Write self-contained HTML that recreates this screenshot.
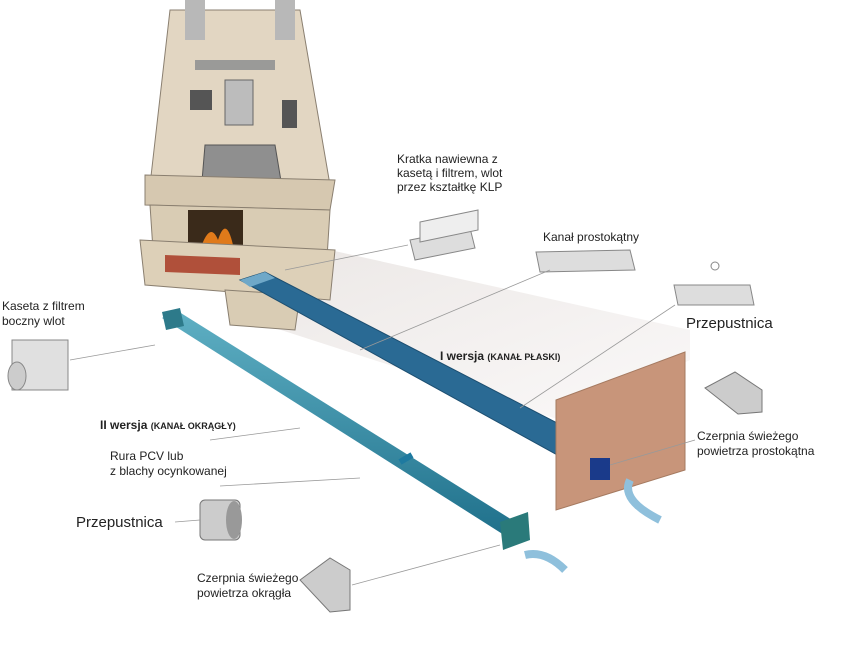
<!DOCTYPE html>
<html><head><meta charset="utf-8"><style>
html,body{margin:0;padding:0;background:#fff;}
svg{display:block;}
text{font-family:"Liberation Sans",sans-serif;fill:#222;}
</style></head><body>
<svg width="848" height="659" viewBox="0 0 848 659" xmlns="http://www.w3.org/2000/svg">
<defs>
<linearGradient id="floor" x1="0" y1="0" x2="1" y2="1">
<stop offset="0" stop-color="#d8d0cc"/><stop offset="1" stop-color="#f6f2f2"/></linearGradient>
<linearGradient id="pipe" x1="0" y1="0" x2="0" y2="1">
<stop offset="0" stop-color="#5fb0c4"/><stop offset="1" stop-color="#1e6f8a"/></linearGradient>
</defs>
<polygon points="230,250 330,250 690,330 690,360 560,420 250,320" fill="url(#floor)" opacity="0.5"/>
<polygon points="170,10 300,10 330,185 150,185" fill="#e2d6c2" stroke="#8a7f70"/>
<rect x="185" y="0" width="20" height="40" fill="#b8b8b8"/>
<rect x="275" y="0" width="20" height="40" fill="#b8b8b8"/>
<rect x="195" y="60" width="80" height="10" fill="#9a9a98"/>
<rect x="225" y="80" width="28" height="45" fill="#bcbcbc" stroke="#666"/>
<rect x="190" y="90" width="22" height="20" fill="#555"/>
<rect x="282" y="100" width="15" height="28" fill="#555"/>
<polygon points="205,145 275,145 285,205 200,205" fill="#8f8f8f" stroke="#555"/>
<polygon points="145,175 335,180 330,210 145,205" fill="#d6c8b0" stroke="#8a7f70"/>
<polygon points="150,205 330,210 325,290 155,280" fill="#d9ccb4" stroke="#8a7f70"/>
<rect x="188" y="210" width="55" height="45" fill="#3a2a1a"/>
<path d="M200,250 q10,-30 18,-10 q8,-25 15,5 z" fill="#e07a1a"/>
<polygon points="140,240 335,250 330,300 145,285" fill="#ddd0b8" stroke="#8a7f70"/>
<polygon points="165,255 240,258 240,275 165,272" fill="#b0503a"/>
<polygon points="225,290 300,295 295,330 230,325" fill="#d9ccb4" stroke="#8a7f70"/>
<polygon points="240,280 265,272 590,440 570,462" fill="#2a6a94" stroke="#1c4e70"/>
<polygon points="240,280 265,272 275,278 250,287" fill="#6fa8c8"/>
<polygon points="556,400 685,352 685,470 556,510" fill="#c8957a" stroke="#a57a60"/>
<rect x="590" y="458" width="20" height="22" fill="#1a3a8a"/>
<polygon points="162,318 176,310 525,528 512,540" fill="url(#pipe)"/>
<polygon points="162,312 180,308 184,326 166,330" fill="#2d7a8a"/>
<polygon points="500,522 528,512 530,540 503,550" fill="#2a7a7a"/>
<line x1="400" y1="462" x2="412" y2="455" stroke="#1e7aa0" stroke-width="6"/>
<path d="M630,480 q-10,20 30,40" stroke="#8fc0dc" stroke-width="8" fill="none"/>
<path d="M525,555 q20,-5 40,15" stroke="#8fc0dc" stroke-width="8" fill="none"/>
<polygon points="410,240 470,228 475,248 415,260" fill="#ddd" stroke="#888"/>
<polygon points="420,222 478,210 478,230 420,242" fill="#eee" stroke="#888"/>
<polygon points="536,252 630,250 635,270 540,272" fill="#ddd" stroke="#888"/>
<polygon points="674,285 750,285 754,305 678,305" fill="#ddd" stroke="#888"/>
<circle cx="715" cy="266" r="4" fill="none" stroke="#888"/>
<rect x="12" y="340" width="56" height="50" fill="#e0e0e0" stroke="#888"/>
<ellipse cx="17" cy="376" rx="9" ry="14" fill="#ccc" stroke="#888"/>
<rect x="200" y="500" width="40" height="40" rx="5" fill="#ccc" stroke="#777"/>
<ellipse cx="234" cy="520" rx="8" ry="19" fill="#999"/>
<polygon points="300,580 330,558 350,570 350,610 330,612" fill="#ccc" stroke="#777"/>
<polygon points="705,388 735,372 762,390 762,412 738,414" fill="#ccc" stroke="#777"/>
<g stroke="#999" stroke-width="0.8">
<line x1="70" y1="360" x2="155" y2="345"/>
<line x1="408" y1="245" x2="285" y2="270"/>
<line x1="550" y1="270" x2="360" y2="350"/>
<line x1="675" y1="305" x2="520" y2="408"/>
<line x1="210" y1="440" x2="300" y2="428"/>
<line x1="220" y1="486" x2="360" y2="478"/>
<line x1="175" y1="522" x2="200" y2="520"/>
<line x1="352" y1="585" x2="500" y2="545"/>
<line x1="695" y1="440" x2="610" y2="465"/>
</g>
<g font-size="12">
<text x="397" y="163">Kratka nawiewna z</text>
<text x="397" y="177">kasetą i filtrem, wlot</text>
<text x="397" y="191">przez kształtkę KLP</text>
<text x="543" y="241">Kanał prostokątny</text>
<text x="2" y="310">Kaseta z filtrem</text>
<text x="2" y="325">boczny wlot</text>
<text x="440" y="360" font-weight="bold">I wersja <tspan font-size="9">(KANAŁ PŁASKI)</tspan></text>
<text x="100" y="429" font-weight="bold">II wersja <tspan font-size="9">(KANAŁ OKRĄGŁY)</tspan></text>
<text x="110" y="460">Rura PCV lub</text>
<text x="110" y="475">z blachy ocynkowanej</text>
<text x="197" y="582">Czerpnia świeżego</text>
<text x="197" y="597">powietrza okrągła</text>
<text x="697" y="440">Czerpnia świeżego</text>
<text x="697" y="455">powietrza prostokątna</text>
</g>
<text x="686" y="328" font-size="15">Przepustnica</text>
<text x="76" y="527" font-size="15">Przepustnica</text>
</svg>
</body></html>
